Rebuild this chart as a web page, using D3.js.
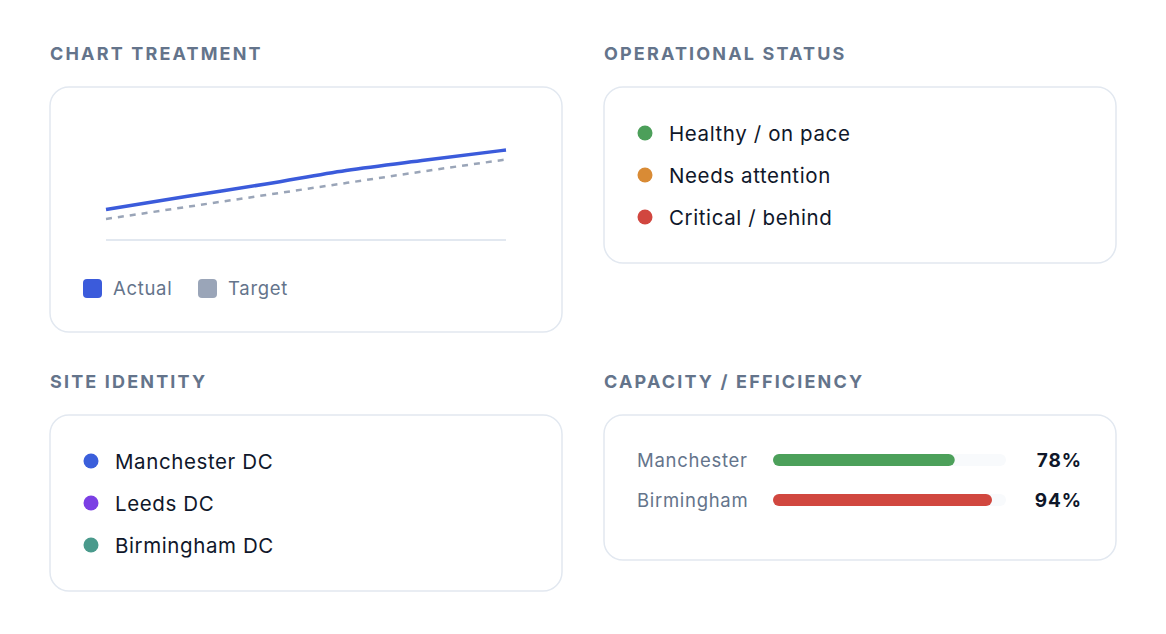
<!DOCTYPE html>
<html lang="en">
<head>
    <meta charset="UTF-8">
    <title>Legend treatments</title>
    <script src="https://cdn.jsdelivr.net/npm/d3@7/dist/d3.min.js"></script>
    <style>
        body{
            margin: 0;
            background: #ffffff;
            font-family: Inter, "Noto Sans", sans-serif;
        }
        .title{
            font-size: 18px;
            font-weight: 700;
            letter-spacing: 0.12em;
            fill: #64748b;
        }
        .card{
            fill: #ffffff;
            stroke: #e2e8f0;
            stroke-width: 1.5px;
        }
        .legendText{
            font-size: 18.5px;
            letter-spacing: 0.7px;
            fill: #64748b;
        }
        .itemText{
            font-size: 20.5px;
            letter-spacing: 0.6px;
            fill: #0f172a;
        }
        .pct{
            font-size: 19px;
            font-weight: 700;
            fill: #0f172a;
            letter-spacing: 0.05em;
        }
    </style>
</head>
<body>
<svg></svg>
<script>
    const width = 1166;
    const height = 634;

    // line chart data (6 periods)
    const periods = [1, 2, 3, 4, 5, 6];
    const actual = [30.5, 43.5, 56, 69.5, 80, 90];
    const target = [21, 33, 45, 57, 69, 80.5];
    const seriesNames = ["Actual", "Target"];
    const seriesColors = ["#3b5bdb", "#9aa5b8"];

    // status / site legends
    const statusLabels = ["Healthy / on pace", "Needs attention", "Critical / behind"];
    const statusColors = ["#4c9f5a", "#d98b35", "#d1463f"];
    const siteLabels = ["Manchester DC", "Leeds DC", "Birmingham DC"];
    const siteColors = ["#3b5fdb", "#7b3fe4", "#4a9a8c"];

    // capacity bars
    const capSites = ["Manchester", "Birmingham"];
    const capValues = [78, 94];
    const capColors = ["#4ca05a", "#d1473f"];

    const svg = d3.select("svg")
        .attr("width", width)
        .attr("height", height);

    // panel layout
    const panels = [
        {title: "CHART TREATMENT", x: 50, y: 87, w: 512, h: 245},
        {title: "OPERATIONAL STATUS", x: 604, y: 87, w: 512, h: 176},
        {title: "SITE IDENTITY", x: 50, y: 415, w: 512, h: 176},
        {title: "CAPACITY / EFFICIENCY", x: 604, y: 415, w: 512, h: 145}
    ];

    svg.selectAll("text.title")
        .data(panels)
        .enter()
        .append("text")
        .attr("class", "title")
        .attr("x", d => d.x)
        .attr("y", d => d.y - 27.5)
        .text(d => d.title);

    svg.selectAll("rect.card")
        .data(panels)
        .enter()
        .append("rect")
        .attr("class", "card")
        .attr("x", d => d.x)
        .attr("y", d => d.y)
        .attr("width", d => d.w)
        .attr("height", d => d.h)
        .attr("rx", 19);

    // ---- chart treatment ----
    const x = d3.scaleLinear().domain(d3.extent(periods)).range([106, 506]);
    const y = d3.scaleLinear().domain([0, 100]).range([240, 140]);

    svg.append("line")
        .attr("x1", x.range()[0]).attr("x2", x.range()[1])
        .attr("y1", y(0)).attr("y2", y(0))
        .attr("stroke", "#e2e8f0")
        .attr("stroke-width", 2);

    const line = d3.line()
        .x((d, i) => x(periods[i]))
        .y(d => y(d))
        .curve(d3.curveMonotoneX);

    svg.append("path")
        .attr("d", line(target))
        .attr("fill", "none")
        .attr("stroke", seriesColors[1])
        .attr("stroke-width", 2.5)
        .attr("stroke-dasharray", "6 6");

    svg.append("path")
        .attr("d", line(actual))
        .attr("fill", "none")
        .attr("stroke", seriesColors[0])
        .attr("stroke-width", 3.5);

    const legendX = [83, 198];
    const leg = svg.selectAll("g.leg")
        .data(seriesNames)
        .enter()
        .append("g")
        .attr("transform", (d, i) => `translate(${legendX[i]},279)`);
    leg.append("rect")
        .attr("width", 19).attr("height", 19).attr("rx", 4)
        .attr("fill", (d, i) => seriesColors[i]);
    leg.append("text")
        .attr("class", "legendText")
        .attr("x", 30).attr("y", 16)
        .text(d => d);

    // ---- dot legends ----
    function dotList(labels, colors, cx, cy0) {
        const g = svg.append("g");
        const rows = g.selectAll("g")
            .data(labels)
            .enter()
            .append("g")
            .attr("transform", (d, i) => `translate(${cx},${cy0 + i * 42})`);
        rows.append("circle")
            .attr("r", 7.5)
            .attr("fill", (d, i) => colors[i]);
        rows.append("text")
            .attr("class", "itemText")
            .attr("x", 24)
            .attr("y", 7.5)
            .text(d => d);
    }
    dotList(statusLabels, statusColors, 645, 133);
    dotList(siteLabels, siteColors, 91, 461);

    // ---- capacity bars ----
    const bx = d3.scaleLinear().domain([0, 100]).range([773, 1006]);
    const by = d3.scaleBand().domain(capSites).range([440, 520]).padding(0);
    const barH = 12;

    const rows = svg.selectAll("g.cap")
        .data(capSites)
        .enter()
        .append("g")
        .attr("transform", d => `translate(0,${by(d) + by.bandwidth() / 2})`);
    rows.append("text")
        .attr("class", "legendText")
        .attr("x", 637)
        .attr("y", 7)
        .text(d => d);
    rows.append("rect")
        .attr("x", bx(0)).attr("y", -barH / 2)
        .attr("width", bx(100) - bx(0)).attr("height", barH)
        .attr("rx", barH / 2)
        .attr("fill", "#f8fafc");
    rows.append("rect")
        .attr("x", bx(0)).attr("y", -barH / 2)
        .attr("width", (d, i) => bx(capValues[i]) - bx(0)).attr("height", barH)
        .attr("rx", barH / 2)
        .attr("fill", (d, i) => capColors[i]);
    rows.append("text")
        .attr("class", "pct")
        .attr("x", 1082)
        .attr("y", 7)
        .attr("text-anchor", "end")
        .text((d, i) => capValues[i] + "%");
</script>
</body>
</html>
